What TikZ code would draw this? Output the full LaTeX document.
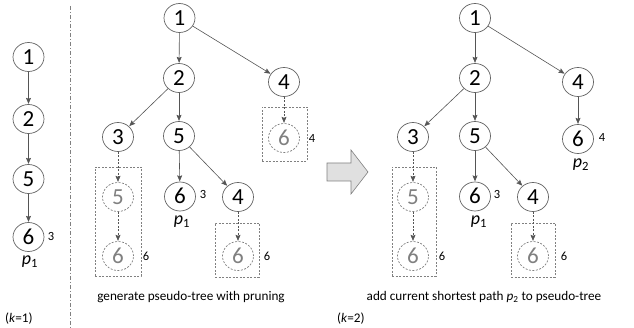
\documentclass[tikz,border=0pt]{standalone}
\usepackage{fontspec}
\setmainfont{Carlito}
\usetikzlibrary{arrows.meta,shapes.geometric}
\definecolor{edgegray}{RGB}{85,85,85}
\definecolor{circgray}{RGB}{100,100,100}
\definecolor{ghost}{RGB}{128,128,128}
\definecolor{arrfill}{RGB}{224,224,224}
\tikzset{
  nd/.style={ellipse, draw=circgray, line width=0.7pt, minimum width=31pt, minimum height=29pt, inner sep=0pt, font=\fontsize{23}{23}\selectfont, text=black, text height=14.6pt, text depth=0pt},
  gnd/.style={nd, draw=ghost, dash pattern=on 2pt off 1.5pt, text=ghost},
  edg/.style={draw=edgegray, line width=0.6pt, -{Stealth[length=6pt,width=5pt,inset=1pt]}, shorten >=0.3pt},
  dedg/.style={edg, dash pattern=on 2pt off 1.5pt},
  gbox/.style={draw=ghost, line width=0.6pt, dash pattern=on 2pt off 1.5pt, rectangle, inner sep=0pt},
  lbl/.style={font=\fontsize{12.5}{12.5}\selectfont, inner sep=0pt},
  plbl/.style={font=\fontsize{18}{18}\selectfont, inner sep=0pt},
  captxt/.style={font=\fontsize{13.2}{15}\selectfont, inner sep=0pt},
}
\begin{document}
\begin{tikzpicture}[x=1pt,y=-1pt]
\useasboundingbox (0,0) rectangle (634,328);

% ---------- left chain (k=1)
\node[nd] (a1) at (28.5,57) {1};
\node[nd] (a2) at (28.5,119) {2};
\node[nd] (a5) at (28.5,179) {5};
\node[nd] (a6) at (28.5,237) {6};
\node[lbl] (a6l) at (51,236) {3};
\node[plbl] (ap1) at (30,262) {\textit{p}\textsubscript{1}};
\node[captxt, anchor=west] (k1) at (5,319) {(\textit{k}=1)};
\draw[edg] (a1) -- (a2);
\draw[edg] (a2) -- (a5);
\draw[edg] (a5) -- (a6);

% separator
\coordinate (sepT) at (70,6);
\coordinate (sepB) at (70,328);
\draw[draw=ghost, line width=0.6pt, dash pattern=on 4pt off 2pt on 1pt off 2pt] (sepT) -- (sepB);

% ---------- middle tree
\node[gbox, minimum width=46pt, minimum height=109pt] (mb1) at (118,221.5) {};
\node[gbox, minimum width=45pt, minimum height=54pt] (mb2) at (284.5,134) {};
\node[gbox, minimum width=44pt, minimum height=54pt] (mb3) at (237,250) {};
\node[nd] (m1) at (179.5,18) {1};
\node[nd] (m2) at (179,78) {2};
\node[nd] (m4) at (284,82) {4};
\node[nd] (m3) at (118,137) {3};
\node[nd] (m5) at (179,136) {5};
\node[gnd] (m46) at (284,138) {6};
\node[lbl] (m46l) at (312,138) {4};
\node[gnd] (m35) at (118,197) {5};
\node[gnd] (m356) at (118,256) {6};
\node[lbl] (m356l) at (146,256) {6};
\node[nd] (m6) at (180,196.5) {6};
\node[lbl] (m6l) at (203,194) {3};
\node[plbl] (mp1) at (182,222) {\textit{p}\textsubscript{1}};
\node[nd] (m54) at (238,197) {4};
\node[gnd] (m546) at (238,256) {6};
\node[lbl] (m546l) at (267,256) {6};
\node[captxt] (mcap) at (191,297) {generate pseudo-tree with pruning};
\draw[edg] (m1) -- (m2);
\draw[edg] (m1) -- (m4);
\draw[edg] (m2) -- (m3);
\draw[edg] (m2) -- (m5);
\draw[edg] (m5) -- (m6);
\draw[edg] (m5) -- (m54);
\draw[dedg] (m4) -- (m46);
\draw[dedg] (m3) -- (m35);
\draw[dedg] (m35) -- (m356);
\draw[dedg] (m54) -- (m546);

% ---------- big arrow
\draw[draw=ghost, fill=arrfill, line width=0.6pt]
  (327,163) -- (351,163) -- (351,150) -- (368,172) -- (351,194) -- (351,181) -- (327,181) -- cycle;

% ---------- right tree
\node[gbox, minimum width=44pt, minimum height=109pt] (rb1) at (414,221.5) {};
\node[gbox, minimum width=44pt, minimum height=54pt] (rb3) at (533,250) {};
\node[nd] (r1) at (475,18) {1};
\node[nd] (r2) at (475,78) {2};
\node[nd] (r4) at (578,82) {4};
\node[nd] (r3) at (413,137) {3};
\node[nd] (r5) at (475,136) {5};
\node[nd] (r46) at (578,139) {6};
\node[lbl] (r46l) at (602,137) {4};
\node[plbl] (rp2) at (581,165) {\textit{p}\textsubscript{2}};
\node[gnd] (r35) at (413,197) {5};
\node[gnd] (r356) at (413,256) {6};
\node[lbl] (r356l) at (442,256) {6};
\node[nd] (r6) at (475,196.5) {6};
\node[lbl] (r6l) at (497,194) {3};
\node[plbl] (rp1) at (479,222) {\textit{p}\textsubscript{1}};
\node[nd] (r54) at (533,197) {4};
\node[gnd] (r546) at (533,256) {6};
\node[lbl] (r546l) at (564,256) {6};
\node[captxt] (rcap) at (484,297) {add current shortest path \textit{p}\textsubscript{2} to pseudo-tree};
\node[captxt, anchor=west] (k2) at (337,319) {(\textit{k}=2)};
\draw[edg] (r1) -- (r2);
\draw[edg] (r1) -- (r4);
\draw[edg] (r2) -- (r3);
\draw[edg] (r2) -- (r5);
\draw[edg] (r4) -- (r46);
\draw[edg] (r5) -- (r6);
\draw[edg] (r5) -- (r54);
\draw[dedg] (r3) -- (r35);
\draw[dedg] (r35) -- (r356);
\draw[dedg] (r54) -- (r546);
\end{tikzpicture}
\end{document}
